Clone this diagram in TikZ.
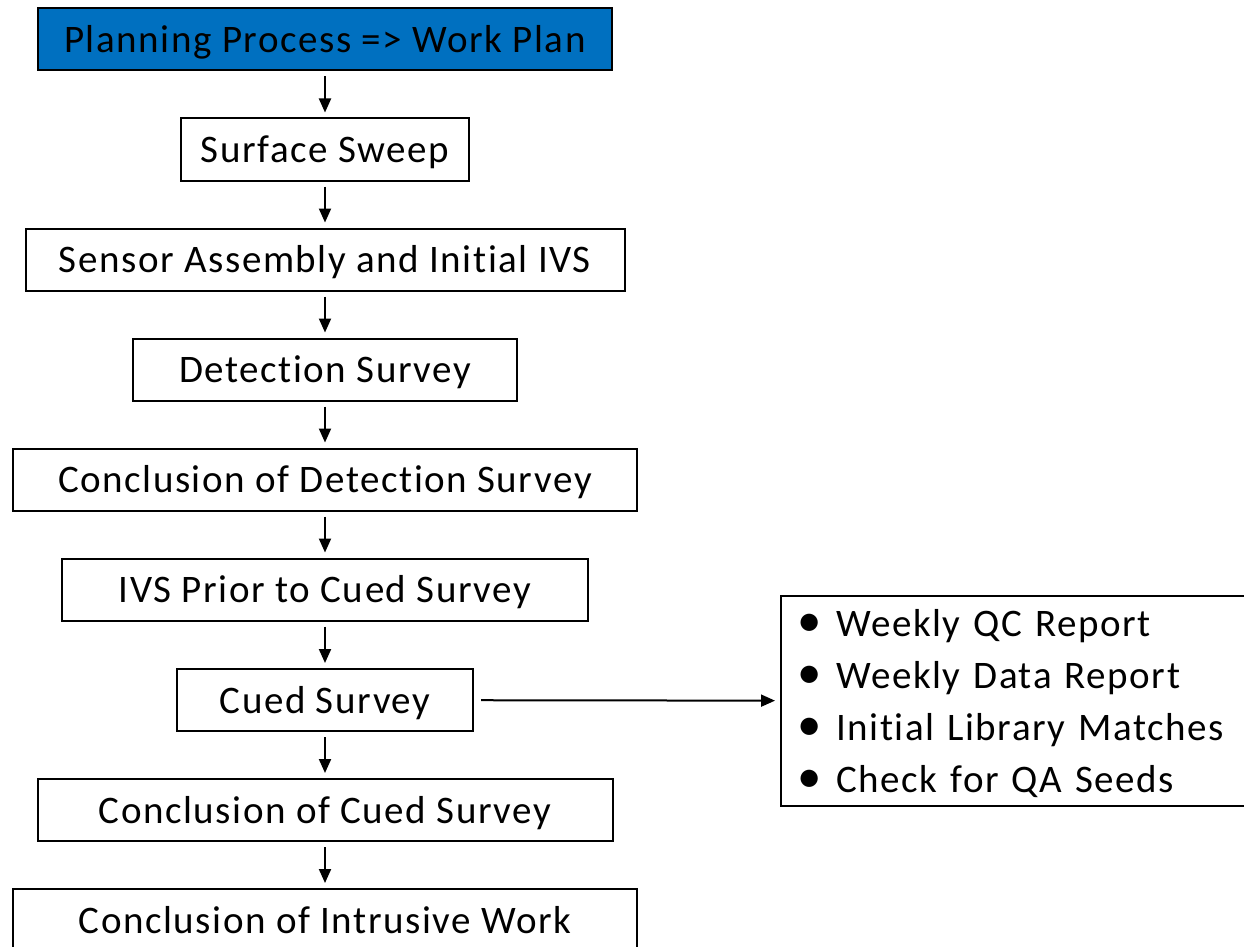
\documentclass[tikz,border=0pt]{standalone}
\usepackage{fontspec}
\setmainfont{Carlito}[LetterSpace=4,Ligatures=NoCommon]
\usetikzlibrary{arrows.meta}
\definecolor{planblue}{RGB}{0,112,192}
\newcommand{\listdot}{\scalebox{1.25}{•}}
\begin{document}
\begin{tikzpicture}[x=1pt,y=-1pt,
  stepbox/.style={draw=black,line width=2pt,minimum height=62pt,inner sep=0pt,
    text height=26pt,text depth=0pt,font=\fontsize{39}{47}\selectfont},
  flow/.style={-{Triangle[length=14pt,width=12pt]},line width=2pt,
    shorten <=5pt,shorten >=5pt}]
\useasboundingbox (0,0) rectangle (1244,947);
% main chain of steps
\node[stepbox,fill=planblue,minimum width=574pt] (plan)   at (325,39.5) {Planning Process => Work Plan};
\node[stepbox,minimum width=288pt] (sweep)  at (325,149.5) {Surface Sweep};
\node[stepbox,minimum width=599pt] (sensor) at (325,259.5) {Sensor Assembly and Initial IVS};
\node[stepbox,minimum width=384pt] (detect) at (325,369.5) {Detection Survey};
\node[stepbox,minimum width=624pt] (cdetect) at (325,479.5) {Conclusion of Detection Survey};
\node[stepbox,minimum width=526pt] (ivs)    at (325,589.5) {IVS Prior to Cued Survey};
\node[stepbox,minimum width=296pt] (cued)   at (325,700) {Cued Survey};
\node[stepbox,minimum width=575pt] (ccued)  at (325,810) {Conclusion of Cued Survey};
\node[stepbox,minimum width=624pt,minimum height=63pt] (intr) at (325,920.5) {Conclusion of Intrusive Work};
% reports produced during the cued survey
\node[draw=black,line width=2pt,anchor=north west,minimum width=480pt,minimum height=210pt,
  inner xsep=16pt,inner ysep=0pt,text width=448pt,align=left,font=\fontsize{39}{52}\selectfont] (list) at (780,595)
  {\raisebox{-3pt}[\height][\depth]{\begin{tabular}{@{}l@{\hspace{15pt}}l@{}}
   \listdot & Weekly QC Report\\
   \listdot & Weekly Data Report\\
   \listdot & Initial Library Matches\\
   \listdot & Check for QA Seeds
   \end{tabular}}};
% connectors
\draw[flow] (plan) -- (sweep);
\draw[flow] (sweep) -- (sensor);
\draw[flow] (sensor) -- (detect);
\draw[flow] (detect) -- (cdetect);
\draw[flow] (cdetect) -- (ivs);
\draw[flow] (ivs) -- (cued);
\draw[flow] (cued) -- (ccued);
\draw[flow] (ccued) -- (intr);
\draw[flow,shorten <=7pt] (cued) -- (list);
\end{tikzpicture}
\end{document}
